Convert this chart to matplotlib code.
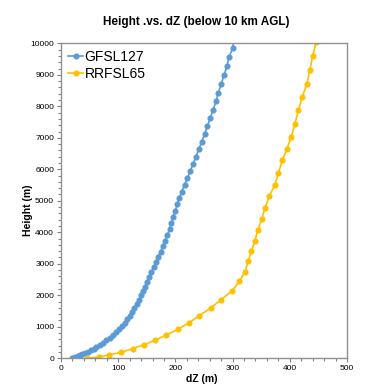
import matplotlib
matplotlib.use("Agg")
import matplotlib.pyplot as plt
from matplotlib.ticker import MultipleLocator

plt.rcParams["font.family"] = ["Liberation Sans", "DejaVu Sans"]

# GFS L127 layer thickness (dZ) vs height
gfs_h = [0, 19, 41, 66, 95, 128, 165, 207, 254, 306, 363, 425, 493, 566, 645,
         731, 822, 918, 1019, 1126, 1238, 1354, 1474, 1598, 1726, 1858, 1995,
         2135, 2278, 2425, 2575, 2729, 2887, 3049, 3215, 3385, 3559, 3737, 3919,
         4105, 4295, 4488, 4684, 4884, 5087, 5294, 5505, 5721, 5942, 6168, 6399,
         6635, 6876, 7122, 7373, 7629, 7890, 8156, 8427, 8702, 8982, 9267, 9557,
         9851, 10151]
gfs_dz = [19, 22, 25, 29, 33, 37, 42, 47, 52, 57, 62, 68, 73, 79, 86,
          91, 96, 101, 107, 112, 116, 120, 124, 128, 132, 137, 140,
          143, 147, 150, 154, 158, 162, 166, 170, 174, 178, 182, 186,
          190, 193, 196, 200, 203, 207, 211, 216, 221, 226, 231, 236,
          241, 246, 251, 256, 261, 266, 271, 275, 280, 285, 290, 294,
          300, 303]

# RRFS L65
rrfs_h = [0, 40, 105, 190, 305, 430, 570, 740, 915, 1120, 1355, 1600, 1860,
          2145, 2440, 2755, 3080, 3400, 3730, 4070, 4425, 4785, 5140, 5510,
          5880, 6280, 6660, 7040, 7450, 7870, 8300, 8720, 9150, 9590, 10030]
rrfs_dz = [46, 66, 84, 105, 125, 145, 164, 184, 204, 223, 242, 262, 280,
           299, 312, 322, 327, 333, 339, 344, 351, 357, 364, 374,
           380, 387, 395, 403, 409, 415, 422, 430, 435, 440, 446]

fig = plt.figure(figsize=(3.66, 3.85), dpi=100)
ax = fig.add_axes([0.1667, 0.0694, 0.7813, 0.8181])

ax.plot(gfs_dz, gfs_h, color="#5B9BD5", lw=1.2, marker="o", ms=3.4, label="GFSL127")
ax.plot(rrfs_dz, rrfs_h, color="#FFC000", lw=1.2, marker="o", ms=3.4, label="RRFSL65")

ax.set_xlim(0, 500)
ax.set_ylim(0, 10000)
ax.xaxis.set_major_locator(MultipleLocator(100))
ax.xaxis.set_minor_locator(MultipleLocator(20))
ax.yaxis.set_major_locator(MultipleLocator(1000))
ax.yaxis.set_minor_locator(MultipleLocator(200))
ax.tick_params(which="both", direction="out", colors="#808080", labelcolor="black",
               labelsize=6, width=0.8, pad=2)
ax.tick_params(which="major", length=3)
ax.tick_params(which="minor", length=2)
for s in ax.spines.values():
    s.set_color("#909090")
    s.set_linewidth(1)

ax.set_xlabel("dZ (m)", fontsize=7.5, fontweight="bold", va="center")
ax.set_ylabel("Height (m)", fontsize=7.5, fontweight="bold", va="center")
ax.xaxis.set_label_coords(0.493, -0.066)
ax.yaxis.set_label_coords(-0.115, 0.47)
fig.text(0.536, 0.943, "Height .vs. dZ (below 10 km AGL)", ha="center", va="center",
         fontsize=8.5, fontweight="bold")

ax.legend(loc="upper left", frameon=False, fontsize=10, handlelength=1.1,
          handletextpad=0.1, borderaxespad=0.3, labelspacing=0.2, borderpad=0.2)

fig.savefig("out.png", dpi=100)
